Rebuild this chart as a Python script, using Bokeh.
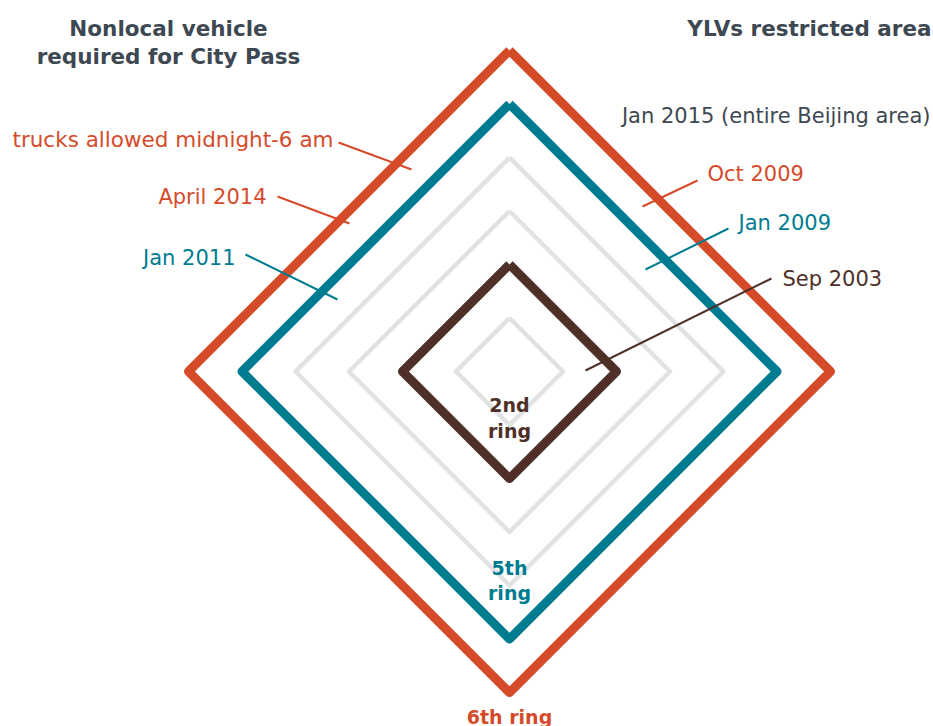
from bokeh.plotting import figure
from bokeh.models import Range1d
from bokeh.embed import file_html
from bokeh.resources import INLINE
from bokeh.core.properties import value

# ---- data ----
rings = [1, 2, 3, 4, 5, 6]
ring_names = ["", "2nd", "", "", "5th", "6th"]
ring_roles = ["grid", "brown", "grid", "grid", "teal", "red"]

left_labels = ["trucks allowed midnight-6 am", "April 2014", "Jan 2011"]
left_roles = ["red", "red", "teal"]
right_labels = ["Jan 2015 (entire Beijing area)", "Oct 2009", "Jan 2009", "Sep 2003"]
right_roles = ["dark", "red", "teal", "brown"]
titles_left = ["Nonlocal vehicle", "required for City Pass"]
title_right = "YLVs restricted area"

COL = {"red": "#d54b2a", "teal": "#007c90", "brown": "#4e3028",
       "grid": "#e1e2e3", "dark": "#3d4853"}
FONT = value("DejaVu Sans")

# ---- layout (page pixels -> ring units) ----
W, H = 933, 726
OX, OY = 0, 0
CX, CY, U = 509, 371, 53.5     # diamond centre on page, px per ring
TY = -7                        # text vertical correction


def ux(px):
    return (px - CX) / U


def uy(py):
    return (CY - py) / U


def ty(py):
    return uy(py + TY)


p = figure(width=W, height=H, output_backend="svg", toolbar_location=None,
           x_range=Range1d(ux(OX), ux(OX + W)), y_range=Range1d(uy(OY + H), uy(OY)),
           min_border=0, outline_line_color=None)
p.axis.visible = False
p.grid.visible = False
p.background_fill_color = "white"
p.border_fill_color = "white"

# diamonds: grey rings first, coloured rings on top
for r, role in zip(rings, ring_roles):
    if role != "grid":
        continue
    p.line([0, r, 0, -r, 0], [r, 0, -r, 0, r], line_color=COL[role],
           line_width=4.5, line_join="round")
for r, role in zip(rings, ring_roles):
    if role == "grid":
        continue
    p.line([0, r, 0, -r, 0], [r, 0, -r, 0, r], line_color=COL[role],
           line_width=9, line_join="round")

# leader lines (page px)
left_leaders = [((338, 142), (411, 169)), ((277, 196), (349, 223)), ((245, 254), (337, 299))]
right_leaders = [None, ((697, 180), (642, 206)), ((728, 228), (645, 269)), ((771, 278), (585, 370))]
for lead, role in zip(left_leaders + right_leaders, left_roles + right_roles):
    if lead is None:
        continue
    (x0, y0), (x1, y1) = lead
    p.segment(x0=[ux(x0)], y0=[uy(y0)], x1=[ux(x1)], y1=[uy(y1)],
              line_color=COL[role], line_width=2)

# left labels
left_pos = [(333, 146), (266, 203), (235, 264)]
left_sizes = ["21.5px", "21px", "21px"]
for t, role, (x, y), fs in zip(left_labels, left_roles, left_pos, left_sizes):
    p.text(x=[ux(x)], y=[ty(y)], text=[t], text_font=FONT, text_font_size=fs,
           text_color=COL[role], text_align="right", text_baseline="alphabetic")

right_pos = [(930, 122), (707, 180), (738, 229), (782, 285)]
for t, role, (x, y) in zip(right_labels, right_roles, right_pos):
    al = "right" if role == "dark" else "left"
    p.text(x=[ux(x)], y=[ty(y)], text=[t], text_font=FONT, text_font_size="21px",
           text_color=COL[role], text_align=al, text_baseline="alphabetic")

# titles
for t, y in zip(titles_left, [35, 63]):
    p.text(x=[ux(168)], y=[ty(y)], text=[t], text_font=FONT, text_font_size="21.5px",
           text_font_style="bold", text_color=COL["dark"], text_align="center",
           text_baseline="alphabetic")
p.text(x=[ux(931)], y=[ty(35)], text=[title_right], text_font=FONT, text_font_size="21.5px",
       text_font_style="bold", text_color=COL["dark"], text_align="right",
       text_baseline="alphabetic")

# ring names
ring_label_pos = {"2nd": [(411, "2nd"), (437, "ring")],
                  "5th": [(574, "5th"), (599, "ring")],
                  "6th": [(723, "6th ring")]}
for name, role in zip(ring_names, ring_roles):
    if not name:
        continue
    for y, t in ring_label_pos[name]:
        p.text(x=[0], y=[ty(y)], text=[t], text_font=FONT, text_font_size="19px",
               text_font_style="bold", text_color=COL[role], text_align="center",
               text_baseline="alphabetic")

open("out.html", "w").write(file_html(p, INLINE))
